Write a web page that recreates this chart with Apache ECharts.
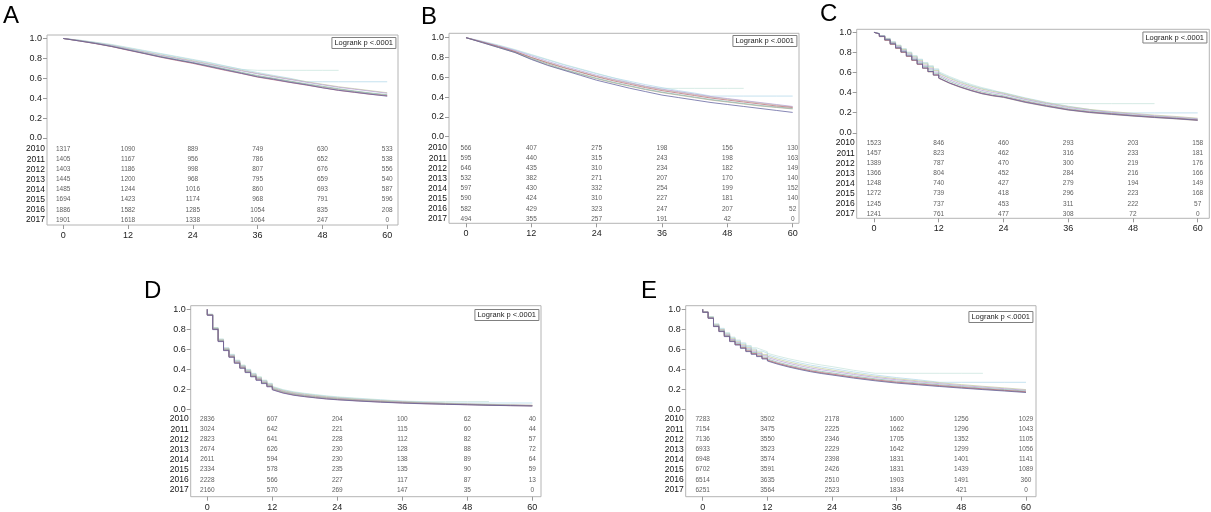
<!DOCTYPE html>
<html><head><meta charset="utf-8">
<script src="https://cdn.jsdelivr.net/npm/echarts@6/dist/echarts.min.js"></script>
<style>html,body{margin:0;padding:0;background:#fff}#c{width:1211px;height:512px}</style>
</head><body><div id="c"></div>
<script>
// ---------------- DATA ----------------
const years = ['2010','2011','2012','2013','2014','2015','2016','2017'];
const riskTicks = [0,12,24,36,48,60];
const yTicks = [0,0.2,0.4,0.6,0.8,1.0];
const panelLabels = ['A','B','C','D','E'];
const logrankText = 'Logrank p <.0001';

const monthsAB = [0,3,6,9,12,15,18,21,24,27,30,33,36,39,42,45,48,51,54,57,60];
const monthsCDE = [0,0,1,2,3,4,5,6,7,8,9,10,11,12,14,16,18,20,22,24,28,32,36,40,44,48,52,56,60];

// survival estimates per year (rows: 2010..2017)
const survA = [
 [1,.975,.95,.92,.885,.85,.815,.785,.755,.72,.685,.65,.615,.59,.56,.535,.505,.48,.46,.44,.42],
 [1,.975,.948,.918,.882,.848,.812,.78,.75,.715,.68,.648,.612,.585,.558,.532,.505,.478,.458,.438,.425],
 [1,.978,.952,.922,.888,.855,.82,.79,.76,.728,.695,.66,.628,.6,.572,.545,.52,.495,.472,.452,.435],
 [1,.976,.95,.92,.886,.852,.818,.786,.756,.724,.69,.656,.622,.596,.568,.54,.515,.49,.468,.448,.43],
 [1,.98,.955,.928,.895,.862,.83,.8,.77,.74,.708,.675,.645,.615,.588,.56,.535,.51,.49,.47,.45],
 [1,.98,.956,.93,.898,.866,.835,.805,.776,.745,.712,.68,.648,.62,.592,.566,.54,.515,.495,.475,.455],
 [1,.982,.96,.935,.905,.875,.845,.815,.785,.755,.722,.69,.658,.628,.6,.565,.565,.565,.565,.565,.565],
 [1,.984,.962,.94,.91,.88,.85,.82,.79,.76,.725,.69,.68,.68,.68,.68,.68,.68]
];
const survB = [
 [1,.95,.9,.85,.78,.72,.67,.62,.57,.53,.49,.455,.42,.395,.37,.345,.325,.305,.285,.265,.245],
 [1,.955,.91,.86,.8,.745,.695,.65,.605,.565,.53,.495,.465,.44,.415,.39,.37,.35,.33,.31,.295],
 [1,.955,.905,.855,.79,.735,.68,.635,.59,.55,.515,.48,.45,.425,.4,.375,.355,.335,.315,.3,.285],
 [1,.95,.9,.85,.785,.725,.675,.63,.585,.545,.51,.475,.445,.42,.395,.37,.35,.33,.31,.295,.28],
 [1,.96,.915,.87,.815,.76,.71,.665,.62,.58,.545,.51,.48,.455,.43,.405,.385,.365,.345,.325,.305],
 [1,.955,.91,.86,.8,.75,.7,.655,.61,.575,.54,.505,.475,.45,.425,.4,.38,.36,.34,.32,.3],
 [1,.96,.92,.875,.825,.775,.725,.68,.635,.595,.56,.525,.495,.465,.44,.41,.41,.41,.41,.41,.41],
 [1,.965,.925,.88,.83,.78,.73,.685,.64,.595,.55,.505,.488,.488,.488,.488,.488,.488]
];
const survC = [
 [1,.985,.96,.925,.885,.845,.805,.765,.725,.685,.645,.61,.575,.545,.495,.455,.42,.39,.37,.355,.305,.265,.228,.203,.185,.168,.153,.14,.125],
 [1,.984,.958,.922,.882,.842,.802,.762,.722,.683,.645,.61,.577,.547,.497,.458,.424,.395,.373,.358,.31,.27,.232,.207,.19,.172,.157,.144,.128],
 [1,.986,.962,.928,.89,.85,.812,.773,.735,.697,.66,.625,.592,.562,.512,.472,.437,.407,.385,.368,.318,.277,.24,.214,.195,.177,.162,.148,.132],
 [1,.983,.957,.92,.88,.84,.8,.76,.72,.68,.64,.605,.572,.542,.492,.452,.418,.388,.367,.352,.302,.262,.226,.2,.182,.166,.151,.138,.122],
 [1,.987,.964,.932,.895,.858,.82,.782,.745,.708,.672,.638,.605,.576,.527,.487,.452,.422,.4,.383,.333,.29,.252,.225,.205,.187,.17,.155,.14],
 [1,.988,.966,.935,.9,.865,.828,.792,.756,.72,.685,.652,.62,.59,.542,.5,.465,.435,.412,.394,.342,.298,.26,.232,.212,.193,.176,.162,.145],
 [1,.988,.967,.937,.903,.868,.832,.797,.762,.727,.693,.66,.628,.598,.55,.508,.472,.442,.418,.4,.348,.303,.265,.232,.198,.198,.198,.198,.198],
 [1,.989,.968,.94,.907,.873,.838,.803,.768,.733,.7,.668,.637,.608,.56,.518,.482,.45,.425,.39,.33,.29,.29,.29,.29,.29,.29]
];
const survD = [
 [1,.94,.797,.677,.587,.52,.46,.41,.367,.325,.29,.257,.225,.195,.162,.14,.126,.114,.103,.095,.082,.071,.062,.055,.05,.045,.04,.036,.033],
 [1,.942,.8,.68,.59,.523,.463,.413,.37,.328,.293,.26,.228,.198,.165,.143,.128,.116,.105,.097,.084,.073,.064,.057,.051,.046,.041,.037,.034],
 [1,.945,.805,.686,.597,.53,.47,.42,.377,.335,.3,.267,.235,.205,.172,.15,.135,.122,.111,.102,.088,.077,.067,.06,.054,.049,.044,.04,.036],
 [1,.943,.802,.684,.595,.528,.469,.42,.377,.336,.301,.268,.237,.207,.175,.153,.138,.126,.115,.106,.092,.08,.07,.062,.056,.05,.045,.041,.037],
 [1,.946,.808,.69,.602,.535,.476,.427,.384,.343,.308,.275,.243,.213,.18,.158,.143,.13,.119,.11,.095,.083,.073,.065,.058,.052,.047,.043,.039],
 [1,.948,.812,.695,.607,.54,.482,.433,.39,.35,.315,.282,.25,.22,.187,.165,.15,.137,.125,.115,.1,.088,.077,.068,.061,.055,.05,.045,.041],
 [1,.95,.815,.7,.612,.545,.487,.438,.395,.355,.32,.287,.255,.225,.192,.17,.155,.142,.13,.12,.105,.092,.081,.072,.063,.063,.063,.063,.063],
 [1,.952,.818,.703,.616,.55,.492,.443,.4,.36,.325,.292,.26,.23,.197,.175,.16,.147,.135,.125,.11,.096,.082,.077,.077,.077,.077]
];
const survE = [
 [1,.97,.91,.827,.777,.727,.677,.643,.61,.577,.55,.527,.503,.483,.45,.422,.398,.376,.358,.343,.312,.285,.262,.245,.228,.212,.197,.183,.168],
 [1,.971,.912,.83,.78,.731,.682,.648,.616,.584,.557,.534,.511,.492,.459,.432,.408,.386,.368,.353,.322,.295,.272,.254,.237,.22,.205,.19,.175],
 [1,.972,.915,.835,.786,.738,.69,.657,.625,.594,.568,.545,.522,.503,.47,.443,.419,.397,.379,.364,.333,.305,.282,.263,.245,.228,.212,.197,.182],
 [1,.97,.911,.829,.779,.73,.68,.646,.613,.581,.554,.531,.508,.488,.455,.427,.403,.381,.363,.348,.317,.29,.267,.249,.232,.216,.201,.187,.172],
 [1,.973,.918,.84,.792,.745,.698,.666,.635,.605,.58,.558,.536,.518,.486,.459,.435,.413,.395,.38,.348,.319,.295,.275,.256,.238,.222,.206,.19],
 [1,.974,.921,.845,.798,.752,.706,.675,.645,.616,.592,.57,.549,.531,.5,.473,.449,.427,.409,.393,.36,.33,.305,.284,.265,.247,.23,.214,.197],
 [1,.975,.924,.85,.804,.759,.714,.684,.655,.627,.603,.582,.562,.545,.515,.488,.464,.442,.424,.408,.374,.343,.317,.295,.27,.27,.27,.27,.27],
 [1,.976,.927,.855,.81,.766,.722,.693,.665,.638,.615,.595,.576,.56,.531,.505,.482,.461,.443,.427,.39,.36,.36,.36,.36,.36,.36]
];

// numbers at risk (rows: 2010..2017, columns: months 0,12,24,36,48,60)
const riskA = [[1317,1090,889,749,630,533],[1405,1167,956,786,652,538],[1403,1186,998,807,676,556],[1445,1200,968,795,659,540],[1485,1244,1016,860,693,587],[1694,1423,1174,968,791,596],[1886,1582,1285,1054,835,208],[1901,1618,1338,1064,247,0]];
const riskB = [[566,407,275,198,156,130],[595,440,315,243,198,163],[646,435,310,234,182,149],[532,382,271,207,170,140],[597,430,332,254,199,152],[590,424,310,227,181,140],[582,429,323,247,207,52],[494,355,257,191,42,0]];
const riskC = [[1523,846,460,293,203,158],[1457,823,462,316,233,181],[1389,787,470,300,219,176],[1366,804,452,284,216,166],[1248,740,427,279,194,149],[1272,739,418,296,223,168],[1245,737,453,311,222,57],[1241,761,477,308,72,0]];
const riskD = [[2836,607,204,100,62,40],[3024,642,221,115,60,44],[2823,641,228,112,82,57],[2674,626,230,128,88,72],[2611,594,230,138,89,64],[2334,578,235,135,90,59],[2228,566,227,117,87,13],[2160,570,269,147,35,0]];
const riskE = [[7283,3502,2178,1600,1256,1029],[7154,3475,2225,1662,1296,1043],[7136,3550,2346,1705,1352,1105],[6933,3523,2229,1642,1299,1056],[6948,3574,2398,1831,1401,1141],[6702,3591,2426,1831,1439,1089],[6514,3635,2510,1903,1491,360],[6251,3564,2523,1834,421,0]];

// ---------------- LAYOUT / STYLE ----------------
const yearColors = ['#5f5f9c','#b86a78','#8bbcb0','#bca88e','#b9a0d8','#c3cc9e','#b2d8ea','#c8e4dc'];
const stepEndMonth = 12; // monthly step segments are drawn up to this month in C-E
const panels = [
 {months:monthsAB, step:false, surv:survA, risk:riskA, l:47,    t:35,    w:351,   h:190, xMin:-3,    xMax:62,    yMin:-0.874, yMax:1.035, tt:144, lab:{left:3,top:4},   lr:{right:815, top:37}},
 {months:monthsAB, step:false, surv:survB, risk:riskB, l:449,   t:33.3,  w:350,   h:190, xMin:-3.12, xMax:61.16, yMin:-0.875, yMax:1.044, tt:143, lab:{left:421,top:5}, lr:{right:414, top:35}},
 {months:monthsCDE, step:true, surv:survC, risk:riskC, l:856.7, t:29.3,  w:352.6, h:189, xMin:-3.2,  xMax:62.15, yMin:-0.851, yMax:1.03,  tt:138, lab:{left:820,top:2}, lr:{right:4,   top:31.5}},
 {months:monthsCDE, step:true, surv:survD, risk:riskD, l:190.7, t:305.7, w:350.3, h:191, xMin:-3.06, xMax:61.6,  yMin:-0.874, yMax:1.036, tt:414, lab:{left:144,top:279}, lr:{right:672, top:309}},
 {months:monthsCDE, step:true, surv:survE, risk:riskE, l:685.7, t:305.7, w:350.3, h:191, xMin:-3.16, xMax:61.86, yMin:-0.874, yMax:1.036, tt:414, lab:{left:641,top:279}, lr:{right:178, top:311}}
];

const grid = [], xAxis = [], yAxis = [], series = [], title = [];
panels.forEach((p, k) => {
  const g0 = 2*k, g1 = 2*k+1;
  grid.push({left:p.l, top:p.t, width:p.w, height:p.h, show:true, borderColor:'#b4b4b4', borderWidth:1, backgroundColor:'transparent'});
  grid.push({left:p.l, top:p.tt, width:p.w, height:81});
  xAxis.push({gridIndex:g0, type:'value', min:p.xMin, max:p.xMax, position:'bottom',
    axisLine:{show:false, onZero:false}, splitLine:{show:false},
    axisTick:{show:true, length:4, customValues:riskTicks, lineStyle:{color:'#9a9a9a'}},
    axisLabel:{customValues:riskTicks, fontSize:9, margin:6, color:'#222'}});
  yAxis.push({gridIndex:g0, type:'value', min:p.yMin, max:p.yMax,
    axisLine:{show:false, onZero:false}, splitLine:{show:false},
    axisTick:{show:true, length:4, customValues:yTicks, lineStyle:{color:'#9a9a9a'}},
    axisLabel:{customValues:yTicks, formatter:v=>v.toFixed(1), fontSize:9, margin:5, color:'#222'}});
  xAxis.push({gridIndex:g1, type:'value', min:p.xMin, max:p.xMax, show:false});
  yAxis.push({gridIndex:g1, type:'category', data:years, inverse:true,
    axisLine:{show:false}, axisTick:{show:false}, splitLine:{show:false},
    axisLabel:{interval:0, fontSize:8.5, margin:2, color:'#111'}});
  for (let yi = years.length-1; yi >= 0; yi--) {
    const pts = p.surv[yi].map((v,i)=>[p.months[i], v]);
    const base = {type:'line', name:years[yi], xAxisIndex:g0, yAxisIndex:g0,
      symbol:'none', showSymbol:false, silent:true,
      lineStyle:{width:1, color:yearColors[yi], opacity:0.75}, itemStyle:{color:yearColors[yi]}};
    if (p.step) {
      const cut = p.months.lastIndexOf(stepEndMonth);
      series.push(Object.assign({}, base, {step:'end', data:pts.slice(0, cut+1)}));
      series.push(Object.assign({}, base, {step:false, data:pts.slice(cut)}));
    } else {
      series.push(Object.assign({}, base, {step:false, data:pts}));
    }
  }
  const td = [];
  p.risk.forEach((row, yi) => row.forEach((n, ti) => td.push([riskTicks[ti], years[yi], n])));
  series.push({type:'scatter', xAxisIndex:g1, yAxisIndex:g1, symbol:'circle', symbolSize:2, silent:true,
    itemStyle:{color:'rgba(255,255,255,0)'}, data:td, z:5,
    label:{show:true, position:'inside', formatter:q=>String(q.value[2]), fontSize:6.5, color:'#333'}});
  title.push({text:panelLabels[k], left:p.lab.left, top:p.lab.top, padding:0,
    textStyle:{fontSize:24, fontWeight:'normal', color:'#000', fontFamily:'Liberation Sans'}});
  title.push({text:logrankText, right:p.lr.right, top:p.lr.top, padding:[2,3],
    borderColor:'#808080', borderWidth:1, backgroundColor:'#fff',
    textStyle:{fontSize:7.5, fontWeight:'normal', color:'#222', fontFamily:'Liberation Sans'}});
});

const chart = echarts.init(document.getElementById('c'), null, {renderer:'canvas'});
chart.setOption({
  animation:false,
  backgroundColor:'#fff',
  textStyle:{fontFamily:'Liberation Sans'},
  title, grid, xAxis, yAxis, series
});
</script>
</body></html>
